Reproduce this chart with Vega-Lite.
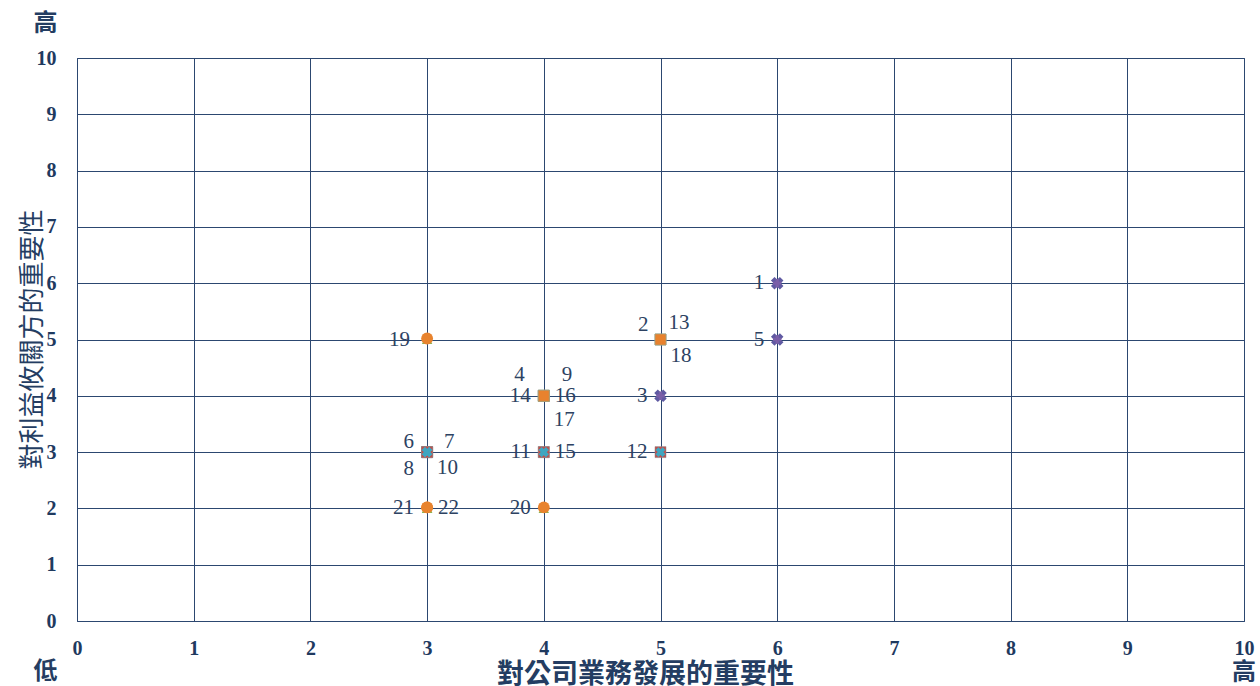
{
  "$schema": "https://vega.github.io/schema/vega-lite/v6.json",
  "width": 1167,
  "height": 563,
  "autosize": {"type": "none"},
  "padding": {"left": 77, "top": 58, "right": 16, "bottom": 65},
  "background": "white",
  "config": {"font": "Liberation Serif", "view": {"stroke": "#2c4770", "strokeWidth": 1}},
  "datasets": {
    "items": [
      {"id": 1, "x": 6, "y": 6, "grp": "A"},
      {"id": 2, "x": 5, "y": 5, "grp": "C"},
      {"id": 3, "x": 5, "y": 4, "grp": "A"},
      {"id": 4, "x": 4, "y": 4, "grp": "C"},
      {"id": 5, "x": 6, "y": 5, "grp": "A"},
      {"id": 6, "x": 3, "y": 3, "grp": "B"},
      {"id": 7, "x": 3, "y": 3, "grp": "B"},
      {"id": 8, "x": 3, "y": 3, "grp": "B"},
      {"id": 9, "x": 4, "y": 4, "grp": "C"},
      {"id": 10, "x": 3, "y": 3, "grp": "B"},
      {"id": 11, "x": 4, "y": 3, "grp": "B"},
      {"id": 12, "x": 5, "y": 3, "grp": "B"},
      {"id": 13, "x": 5, "y": 5, "grp": "C"},
      {"id": 14, "x": 4, "y": 4, "grp": "C"},
      {"id": 15, "x": 4, "y": 3, "grp": "B"},
      {"id": 16, "x": 4, "y": 4, "grp": "C"},
      {"id": 17, "x": 4, "y": 4, "grp": "C"},
      {"id": 18, "x": 5, "y": 5, "grp": "C"},
      {"id": 19, "x": 3, "y": 5, "grp": "D"},
      {"id": 20, "x": 4, "y": 2, "grp": "D"},
      {"id": 21, "x": 3, "y": 2, "grp": "D"},
      {"id": 22, "x": 3, "y": 2, "grp": "D"}
    ],
    "notes": [
      {"t": "高", "x": -0.27, "y": 10.6},
      {"t": "低", "x": -0.27, "y": -0.9},
      {"t": "高", "x": 10, "y": -0.93}
    ]
  },
  "data": {"name": "items"},
  "encoding": {
    "x": {
      "field": "x", "type": "quantitative",
      "scale": {"domain": [0, 10], "nice": false, "zero": false},
      "axis": {
        "values": [0, 1, 2, 3, 4, 5, 6, 7, 8, 9, 10],
        "grid": true, "gridColor": "#2c4770", "gridOpacity": 1, "gridWidth": 1,
        "domain": false, "ticks": false,
        "labelFont": "Liberation Serif", "labelFontWeight": "bold", "labelFontSize": 20,
        "labelColor": "#1f3a5f", "labelPadding": 17, "labelFlush": false,
        "title": "對公司業務發展的重要性",
        "titleFont": "Noto Sans CJK TC", "titleFontWeight": "bold", "titleFontSize": 27,
        "titleColor": "#243d62",
        "titleX": 568, "titleY": 53, "titleAlign": "center", "titleBaseline": "middle"
      }
    },
    "y": {
      "field": "y", "type": "quantitative",
      "scale": {"domain": [0, 10], "nice": false, "zero": false},
      "axis": {
        "values": [0, 1, 2, 3, 4, 5, 6, 7, 8, 9, 10],
        "grid": true, "gridColor": "#2c4770", "gridOpacity": 1, "gridWidth": 1,
        "domain": false, "ticks": false,
        "labelFont": "Liberation Serif", "labelFontWeight": "bold", "labelFontSize": 20,
        "labelColor": "#1f3a5f", "labelPadding": 21, "labelFlush": false,
        "title": "對利益攸關方的重要性",
        "titleFont": "Noto Sans CJK TC", "titleFontWeight": "normal", "titleFontSize": 26,
        "titleColor": "#243d62",
        "titleX": -45, "titleY": 281, "titleAngle": -90, "titleAlign": "center", "titleBaseline": "middle"
      }
    }
  },
  "layer": [
    {
      "transform": [{"filter": "datum.grp == 'A'"}],
      "mark": {"type": "point", "shape": "cross", "angle": 45, "filled": true, "size": 160, "color": "#5f5aa2", "opacity": 1}
    },
    {
      "transform": [{"filter": "datum.grp == 'A'"}],
      "mark": {"type": "point", "shape": "cross", "filled": true, "size": 70, "color": "#7a5fa8", "opacity": 1}
    },
    {
      "transform": [{"filter": "datum.grp == 'B'"}],
      "mark": {"type": "point", "shape": "square", "filled": true, "size": 121, "color": "#c0504d", "stroke": "#8a8a8a", "strokeWidth": 0.5, "opacity": 1}
    },
    {
      "transform": [{"filter": "datum.grp == 'B'"}],
      "mark": {"type": "point", "shape": "cross", "angle": 45, "filled": true, "size": 100, "color": "#3fa6c0", "opacity": 1}
    },
    {
      "transform": [{"filter": "datum.grp == 'C'"}],
      "mark": {"type": "point", "shape": "square", "filled": true, "size": 121, "color": "#e8822e", "stroke": "#9aa58a", "strokeWidth": 0.6, "opacity": 1}
    },
    {
      "transform": [{"filter": "datum.grp == 'D'"}],
      "mark": {"type": "point", "shape": "triangle-up", "filled": true, "size": 110, "color": "#8db350", "opacity": 1}
    },
    {
      "transform": [{"filter": "datum.grp == 'D'"}],
      "mark": {"type": "point", "shape": "circle", "filled": true, "size": 140, "color": "#e8832e", "opacity": 1, "yOffset": -1}
    },
    {
      "transform": [{"filter": {"field": "id", "oneOf": [1, 5, 3, 12, 20, 21, 11, 14]}}],
      "mark": {"type": "text", "align": "right", "baseline": "middle", "dx": -13, "dy": 0, "font": "Liberation Serif", "fontSize": 21, "color": "#2d4262"},
      "encoding": {"text": {"field": "id"}}
    },
    {
      "transform": [{"filter": {"field": "id", "oneOf": [19]}}],
      "mark": {"type": "text", "align": "right", "baseline": "middle", "dx": -17, "dy": 0, "font": "Liberation Serif", "fontSize": 21, "color": "#2d4262"},
      "encoding": {"text": {"field": "id"}}
    },
    {
      "transform": [{"filter": {"field": "id", "oneOf": [22, 15, 16]}}],
      "mark": {"type": "text", "align": "left", "baseline": "middle", "dx": 11, "dy": 0, "font": "Liberation Serif", "fontSize": 21, "color": "#2d4262"},
      "encoding": {"text": {"field": "id"}}
    },
    {
      "transform": [{"filter": {"field": "id", "oneOf": [6]}}],
      "mark": {"type": "text", "align": "right", "baseline": "middle", "dx": -13, "dy": -10, "font": "Liberation Serif", "fontSize": 21, "color": "#2d4262"},
      "encoding": {"text": {"field": "id"}}
    },
    {
      "transform": [{"filter": {"field": "id", "oneOf": [7]}}],
      "mark": {"type": "text", "align": "left", "baseline": "middle", "dx": 17, "dy": -10, "font": "Liberation Serif", "fontSize": 21, "color": "#2d4262"},
      "encoding": {"text": {"field": "id"}}
    },
    {
      "transform": [{"filter": {"field": "id", "oneOf": [8]}}],
      "mark": {"type": "text", "align": "right", "baseline": "middle", "dx": -13, "dy": 17, "font": "Liberation Serif", "fontSize": 21, "color": "#2d4262"},
      "encoding": {"text": {"field": "id"}}
    },
    {
      "transform": [{"filter": {"field": "id", "oneOf": [10, 18]}}],
      "mark": {"type": "text", "align": "left", "baseline": "middle", "dx": 10, "dy": 16, "font": "Liberation Serif", "fontSize": 21, "color": "#2d4262"},
      "encoding": {"text": {"field": "id"}}
    },
    {
      "transform": [{"filter": {"field": "id", "oneOf": [17]}}],
      "mark": {"type": "text", "align": "left", "baseline": "middle", "dx": 10, "dy": 24, "font": "Liberation Serif", "fontSize": 21, "color": "#2d4262"},
      "encoding": {"text": {"field": "id"}}
    },
    {
      "transform": [{"filter": {"field": "id", "oneOf": [4]}}],
      "mark": {"type": "text", "align": "right", "baseline": "middle", "dx": -19, "dy": -21, "font": "Liberation Serif", "fontSize": 21, "color": "#2d4262"},
      "encoding": {"text": {"field": "id"}}
    },
    {
      "transform": [{"filter": {"field": "id", "oneOf": [9]}}],
      "mark": {"type": "text", "align": "left", "baseline": "middle", "dx": 18, "dy": -21, "font": "Liberation Serif", "fontSize": 21, "color": "#2d4262"},
      "encoding": {"text": {"field": "id"}}
    },
    {
      "transform": [{"filter": {"field": "id", "oneOf": [2]}}],
      "mark": {"type": "text", "align": "right", "baseline": "middle", "dx": -12, "dy": -15, "font": "Liberation Serif", "fontSize": 21, "color": "#2d4262"},
      "encoding": {"text": {"field": "id"}}
    },
    {
      "transform": [{"filter": {"field": "id", "oneOf": [13]}}],
      "mark": {"type": "text", "align": "left", "baseline": "middle", "dx": 8, "dy": -17, "font": "Liberation Serif", "fontSize": 21, "color": "#2d4262"},
      "encoding": {"text": {"field": "id"}}
    },
    {
      "data": {"name": "notes"},
      "mark": {"type": "text", "align": "center", "baseline": "middle", "font": "Noto Sans CJK TC", "fontWeight": "bold", "fontSize": 24, "color": "#243d62"},
      "encoding": {"text": {"field": "t"}}
    }
  ]
}
